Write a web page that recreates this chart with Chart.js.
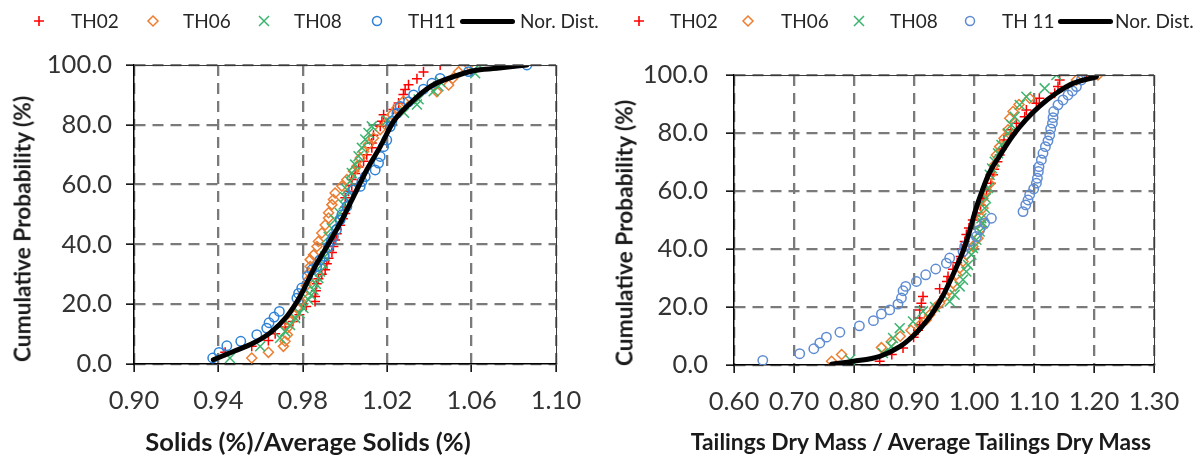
<!DOCTYPE html>
<html><head><meta charset="utf-8">
<script src="https://cdn.jsdelivr.net/npm/chart.js@4.4.1/dist/chart.umd.min.js"></script>
<style>
html,body{margin:0;padding:0;background:#fff;}
body{width:1204px;height:459px;position:relative;overflow:hidden;font-family:Lato,"Liberation Sans",sans-serif;}
canvas{position:absolute;top:0;}
#c1{left:0;}
#c2{left:600px;}
.lgt{position:absolute;font-size:19px;color:#262626;white-space:nowrap;line-height:22px;}
.lgm{position:absolute;}
.yt{position:absolute;font-weight:bold;color:#1a1a1a;white-space:nowrap;transform:translate(-50%,-50%) rotate(-90deg);}
.xt{position:absolute;font-weight:bold;color:#1a1a1a;white-space:nowrap;transform:translate(-50%,-50%);}
</style>
</head><body>
<canvas id="c1" width="600" height="459"></canvas>
<canvas id="c2" width="604" height="459"></canvas>
<div id="overlay"></div>
<script>
// ---------- DATA ----------
const seriesNamesLeft = ["TH02", "TH06", "TH08", "TH11", "Nor. Dist."];
const seriesNamesRight = ["TH02", "TH06", "TH08", "TH 11", "Nor. Dist."];
const xTitleLeft = "Solids (%)/Average Solids (%)";
const xTitleRight = "Tailings Dry Mass / Average Tailings Dry Mass";
const yTitle = "Cumulative Probability (%)";

const leftXTicks = [0.90, 0.94, 0.98, 1.02, 1.06, 1.10];
const rightXTicks = [0.60, 0.70, 0.80, 0.90, 1.00, 1.10, 1.20, 1.30];
const yTicks = [0, 20, 40, 60, 80, 100];

// Left panel: Solids ratio vs cumulative probability
const solidsTH02 = [[0.9432,3.9],[0.9558,5.9],[0.9637,7.9],[0.9669,10.1],[0.9716,12.4],[0.9753,14.2],[0.9784,16.5],[0.9816,19.2],[0.9858,20.9],[0.9858,22.6],[0.9862,24.5],[0.9866,26.8],[0.9874,28.5],[0.9890,30.0],[0.9906,31.5],[0.9914,33.5],[0.9922,35.4],[0.9938,37.3],[0.9945,39.3],[0.9953,41.5],[0.9961,43.6],[0.9977,46.4],[0.9990,48.6],[1.0001,50.3],[1.0001,52.5],[1.0001,55.6],[1.0017,57.8],[1.0032,59.8],[1.0032,61.7],[1.0048,63.7],[1.0064,65.9],[1.0088,67.8],[1.0103,70.0],[1.0127,72.3],[1.0127,73.9],[1.0135,76.5],[1.0167,79.5],[1.0175,81.2],[1.0183,83.4],[1.0230,85.1],[1.0254,87.3],[1.0277,90.1],[1.0285,91.8],[1.0301,93.4],[1.0341,95.4],[1.0372,97.7],[1.0451,100]];
const solidsTH06 = [[0.9558,2.0],[0.9637,3.9],[0.9708,5.9],[0.9716,7.6],[0.9727,9.8],[0.9727,12.0],[0.9740,14.2],[0.9764,16.5],[0.9772,18.7],[0.9790,21.0],[0.9800,23.5],[0.9816,26.2],[0.9827,28.2],[0.9830,30.5],[0.9835,32.6],[0.9835,34.9],[0.9851,36.5],[0.9867,39.3],[0.9874,41.0],[0.9890,43.8],[0.9906,46.5],[0.9922,48.8],[0.9922,50.6],[0.9938,53.3],[0.9945,55.0],[0.9953,57.2],[0.9985,59.5],[1.0009,61.7],[1.0040,64.5],[1.0056,66.1],[1.0072,68.9],[1.0088,71.1],[1.0111,73.4],[1.0135,75.6],[1.0167,78.4],[1.0198,80.6],[1.0222,83.4],[1.0246,85.6],[1.0277,87.9],[1.0435,91.1],[1.0491,93.3],[1.0510,95.5],[1.0538,97.7],[1.0586,100]];
const solidsTH08 = [[0.9455,2.0],[0.9598,5.9],[0.9692,8.7],[0.9716,10.9],[0.9740,13.0],[0.9764,15.4],[0.9785,17.0],[0.9803,18.7],[0.9827,21.5],[0.9840,23.0],[0.9850,24.8],[0.9862,26.8],[0.9874,28.7],[0.9882,30.9],[0.9895,33.5],[0.9905,36.0],[0.9915,39.0],[0.9922,42.6],[0.9937,45.4],[0.9953,48.2],[0.9975,50.5],[0.9993,53.3],[1.0000,55.8],[1.0009,58.3],[1.0024,61.1],[1.0032,63.9],[1.0048,66.7],[1.0064,69.5],[1.0080,72.3],[1.0096,75.1],[1.0111,77.3],[1.0127,79.5],[1.0200,81.5],[1.0280,84.0],[1.0341,86.8],[1.0349,88.5],[1.0420,91.2],[1.0443,92.9],[1.0451,94.4],[1.0617,97.2],[1.0633,100]];
const solidsTH11 = [[0.9373,2.0],[0.9403,3.9],[0.9440,6.1],[0.9506,7.6],[0.9582,9.8],[0.9629,12.0],[0.9640,13.8],[0.9664,15.7],[0.9689,17.6],[0.9772,22.0],[0.9780,23.6],[0.9795,25.4],[0.9822,29.3],[0.9843,31.5],[0.9866,32.6],[0.9882,34.8],[0.9901,36.0],[0.9922,39.3],[0.9935,41.0],[0.9945,42.6],[0.9960,45.0],[0.9977,48.2],[0.9985,49.9],[1.0009,52.7],[1.0024,56.0],[1.0040,58.2],[1.0072,59.4],[1.0080,61.0],[1.0096,62.7],[1.0143,64.9],[1.0159,67.2],[1.0167,69.4],[1.0183,72.7],[1.0198,74.9],[1.0214,79.4],[1.0222,81.1],[1.0246,83.9],[1.0262,86.1],[1.0301,87.7],[1.0325,90.0],[1.0372,91.9],[1.0412,93.9],[1.0451,95.5],[1.0586,97.8],[1.0862,100]];
const solidsNorDist = [[0.9376,1.4],[0.9471,4.2],[0.9566,7.0],[0.9645,10.4],[0.9724,15.9],[0.9787,22.6],[0.9850,31.5],[0.9914,39.3],[0.9977,47.1],[1.0040,56.0],[1.0103,64.9],[1.0167,72.7],[1.0230,81.1],[1.0309,87.2],[1.0404,92.8],[1.0514,96.1],[1.0609,98.1],[1.0720,98.9],[1.0862,100]];

// Right panel: tailings dry mass ratio vs cumulative probability
const massTH02 = [[0.8428,1.3],[0.8630,3.6],[0.8817,5.9],[0.8994,9.6],[0.9067,12.0],[0.9095,14.0],[0.9095,16.2],[0.9095,19.0],[0.9123,21.3],[0.9150,23.6],[0.9428,26.3],[0.9550,28.8],[0.9567,30.5],[0.9650,33.0],[0.9720,35.3],[0.9777,37.4],[0.9800,40.0],[0.9845,42.6],[0.9873,45.0],[0.9916,47.2],[0.9980,50.0],[1.0050,52.4],[1.0110,55.2],[1.0150,57.5],[1.0207,60.4],[1.0280,62.7],[1.0317,65.6],[1.0335,67.5],[1.0390,70.1],[1.0428,72.4],[1.0460,74.5],[1.0500,77.6],[1.0623,79.5],[1.0615,81.1],[1.0707,83.4],[1.0845,85.6],[1.0873,87.9],[1.1040,90.3],[1.1089,92.0],[1.1345,93.7],[1.1400,96.0],[1.1428,98.3],[1.1873,100]];
const massTH06 = [[0.7626,1.3],[0.7793,3.6],[0.8457,6.0],[0.8620,8.0],[0.8770,9.9],[0.8950,12.0],[0.9100,13.8],[0.9207,15.6],[0.9262,17.3],[0.9345,19.6],[0.9428,21.3],[0.9512,23.6],[0.9595,25.9],[0.9650,28.2],[0.9707,31.1],[0.9762,33.4],[0.9817,35.7],[0.9873,38.0],[0.9983,40.9],[1.0067,43.7],[1.0123,47.2],[1.0123,50.6],[1.0150,54.1],[1.0150,57.5],[1.0207,60.0],[1.0262,62.5],[1.0280,65.6],[1.0330,68.8],[1.0373,72.4],[1.0428,75.3],[1.0500,78.2],[1.0567,81.1],[1.0595,85.1],[1.0650,87.4],[1.0750,89.8],[1.0928,92.0],[1.1707,98.3],[1.2067,100]];
const massTH08 = [[0.7933,1.8],[0.8483,4.1],[0.8623,6.4],[0.8650,9.3],[0.8762,12.7],[0.8983,15.0],[0.9150,18.5],[0.9350,20.0],[0.9595,21.9],[0.9678,24.2],[0.9762,27.1],[0.9817,29.4],[0.9873,32.2],[0.9900,34.5],[0.9957,38.0],[0.9983,40.3],[1.0040,43.2],[1.0095,46.0],[1.0150,48.9],[1.0123,50.6],[1.0178,54.1],[1.0200,57.5],[1.0233,61.0],[1.0262,65.6],[1.0300,67.8],[1.0345,70.1],[1.0400,73.0],[1.0457,75.9],[1.0567,79.9],[1.0623,82.8],[1.0678,85.6],[1.0762,89.7],[1.0873,92.5],[1.1178,95.4],[1.1373,100]];
const massTH11 = [[0.6480,1.6],[0.7095,3.9],[0.7330,5.6],[0.7430,7.6],[0.7540,9.6],[0.7765,11.3],[0.8090,13.5],[0.8324,15.3],[0.8457,17.6],[0.8595,19.0],[0.8733,21.0],[0.8790,23.1],[0.8817,25.6],[0.8862,27.1],[0.9040,28.8],[0.9195,31.1],[0.9362,33.1],[0.9540,35.1],[0.9595,36.9],[0.9817,39.1],[0.9845,40.9],[0.9928,42.6],[1.0040,44.3],[1.0095,46.6],[1.0178,48.9],[1.0290,50.6],[1.0817,52.9],[1.0862,55.2],[1.0900,56.9],[1.0928,58.7],[1.0995,60.7],[1.1040,62.7],[1.1057,64.4],[1.1073,66.7],[1.1083,68.4],[1.1123,70.7],[1.1150,73.0],[1.1190,75.3],[1.1233,77.3],[1.1262,79.3],[1.1278,81.4],[1.1307,83.4],[1.1317,85.3],[1.1328,87.4],[1.1400,89.7],[1.1483,91.4],[1.1567,93.1],[1.1640,94.5],[1.1707,96.0],[1.1790,98.3],[1.1873,100]];
const massNorDist = [[0.7626,0.3],[0.7990,1.3],[0.8430,3.0],[0.8770,6.4],[0.8980,9.9],[0.9140,13.4],[0.9310,18.0],[0.9480,23.8],[0.9640,30.7],[0.9810,38.8],[0.9920,45.7],[1.0030,53.7],[1.0140,60.3],[1.0250,66.0],[1.0420,71.9],[1.0640,78.9],[1.0870,84.7],[1.1090,89.2],[1.1370,93.7],[1.1650,97.1],[1.2040,99.4]];

// ---------- STYLE ----------
const COL = {red:'#FF0000', orange:'#ED7D31', green:'#3CB46E', blueL:'#2E83D8', blueR:'#5E8CD2', line:'#000000'};
const toPts = a => a.map(p => ({x:p[0], y:p[1]}));

function scatterSet(label, pts, style, color, radius, order){
  return {type:'scatter', label, data: toPts(pts), showLine:false, order,
    pointStyle: style, pointRadius: radius, pointHoverRadius: radius,
    pointBorderColor: color, pointBackgroundColor: 'rgba(0,0,0,0)', pointBorderWidth: 1.5,
    borderColor: color, backgroundColor: 'rgba(0,0,0,0)'};
}
function lineSet(label, pts){
  return {type:'line', label, data: toPts(pts), showLine:true, order:0,
    borderColor: COL.line, borderWidth: 5, pointRadius: 0, pointHoverRadius:0,
    cubicInterpolationMode:'monotone', fill:false, borderCapStyle:'round', borderJoinStyle:'round'};
}

const framePlugin = {
  id:'frame',
  afterDraw(chart){
    const {ctx, chartArea:a} = chart;
    ctx.save();
    ctx.strokeStyle = '#3a3a3a'; ctx.lineWidth = 1;
    ctx.beginPath();
    ctx.moveTo(a.left, a.top + 0.5); ctx.lineTo(a.right + 0.5, a.top + 0.5);
    ctx.lineTo(a.right + 0.5, a.bottom);
    ctx.stroke();
    ctx.restore();
  }
};

function makeChart(id, names, sets, xTicks, xMin, xMax, pad, xHeight, yLabPad, blue){
  const ds = [
    lineSet(names[4], sets[4]),
    scatterSet(names[3], sets[3], 'circle', blue, 4.7, 1),
    scatterSet(names[2], sets[2], 'crossRot', COL.green, 7, 2),
    scatterSet(names[1], sets[1], 'rectRot', COL.orange, 5, 3),
    scatterSet(names[0], sets[0], 'cross', COL.red, 5, 4)
  ];
  const tickFont = {family:'Lato', size:25.5};
  return new Chart(document.getElementById(id), {
    type:'scatter',
    data:{datasets: ds},
    options:{
      responsive:false, animation:false, devicePixelRatio:1,
      layout:{padding: pad},
      plugins:{legend:{display:false}, tooltip:{enabled:false}},
      scales:{
        x:{type:'linear', min:xMin, max:xMax,
          afterBuildTicks: s => { s.ticks = xTicks.map(v => ({value:v})); },
          afterFit: s => { s.height = xHeight; },
          ticks:{callback: v => Number(v).toFixed(2), font: tickFont, color:'#333', padding:13, maxRotation:0, autoSkip:false},
          grid:{color:'#7a7a7a', lineWidth:2.3, tickLength:8, tickColor:'#000', tickWidth:1.5},
          border:{display:true, color:'#000', width:1.5, dash:[11,7]}
        },
        y:{type:'linear', min:0, max:100,
          afterBuildTicks: s => { s.ticks = yTicks.map(v => ({value:v})); },
          afterFit: s => { s.width = 134; },
          ticks:{callback: v => Number(v).toFixed(1), font: tickFont, color:'#333', padding:yLabPad, autoSkip:false},
          grid:{color:'#7a7a7a', lineWidth:2.3, tickLength:8, tickColor:'#000', tickWidth:1.5},
          border:{display:true, color:'#000', width:1.5, dash:[11,7]}
        }
      }
    },
    plugins:[framePlugin]
  });
}

makeChart('c1', seriesNamesLeft, [solidsTH02, solidsTH06, solidsTH08, solidsTH11, solidsNorDist],
  leftXTicks, 0.90, 1.10, {left:0, right:44, top:65, bottom:0}, 95, 14, COL.blueL);
makeChart('c2', seriesNamesRight, [massTH02, massTH06, massTH08, massTH11, massNorDist],
  rightXTicks, 0.60, 1.30, {left:0, right:50, top:75, bottom:0}, 94, 18, COL.blueR);

// ---------- LEGENDS & TITLES (HTML text) ----------
const ov = document.getElementById('overlay');
function svgMarker(kind, color){
  const s = 16, c = 8;
  let inner = '';
  if (kind === 'cross') inner = `<path d="M${c-5} ${c}H${c+5}M${c} ${c-5}V${c+5}" stroke="${color}" stroke-width="1.6" fill="none"/>`;
  if (kind === 'rectRot') inner = `<path d="M${c} ${c-5}L${c+5} ${c}L${c} ${c+5}L${c-5} ${c}Z" stroke="${color}" stroke-width="1.5" fill="none"/>`;
  if (kind === 'crossRot') inner = `<path d="M${c-5} ${c-5}L${c+5} ${c+5}M${c+5} ${c-5}L${c-5} ${c+5}" stroke="${color}" stroke-width="1.5" fill="none"/>`;
  if (kind === 'circle') inner = `<circle cx="${c}" cy="${c}" r="4.5" stroke="${color}" stroke-width="1.5" fill="none"/>`;
  return `<svg width="${s}" height="${s}" viewBox="0 0 ${s} ${s}">${inner}</svg>`;
}
function legend(names, markerX, textX, lineX0, lineX1, blue){
  const kinds = ['cross','rectRot','crossRot','circle'];
  const cols = [COL.red, COL.orange, COL.green, blue];
  const cy = 21;
  for (let i = 0; i < 4; i++){
    const m = document.createElement('div'); m.className = 'lgm';
    m.style.left = (markerX[i] - 8) + 'px'; m.style.top = (cy - 8) + 'px';
    m.innerHTML = svgMarker(kinds[i], cols[i]); ov.appendChild(m);
  }
  for (let i = 0; i < 5; i++){
    const t = document.createElement('div'); t.className = 'lgt';
    t.textContent = names[i]; t.style.left = textX[i] + 'px'; t.style.top = (cy - 11) + 'px';
    ov.appendChild(t);
  }
  const ln = document.createElement('div');
  ln.style.cssText = `position:absolute;left:${lineX0}px;top:${cy-2.5}px;width:${lineX1-lineX0}px;height:5px;background:#000;border-radius:2.5px;`;
  ov.appendChild(ln);
}
legend(seriesNamesLeft, [38.5,153,263.5,377], [71,183,294,408,520], 460, 515, COL.blueL);
legend(seriesNamesRight, [638.7,748,859,970], [670,781,890,1002,1115], 1058, 1113, COL.blueR);

function title(cls, text, x, y, size){
  const d = document.createElement('div'); d.className = cls; d.textContent = text;
  d.style.left = x + 'px'; d.style.top = y + 'px'; d.style.fontSize = size + 'px'; ov.appendChild(d);
}
title('yt', yTitle, 22, 229, 22.7);
title('yt', yTitle, 624, 233, 22.7);
title('xt', xTitleLeft, 308, 441, 25.5);
title('xt', xTitleRight, 921, 441, 22.8);
</script>
</body></html>
